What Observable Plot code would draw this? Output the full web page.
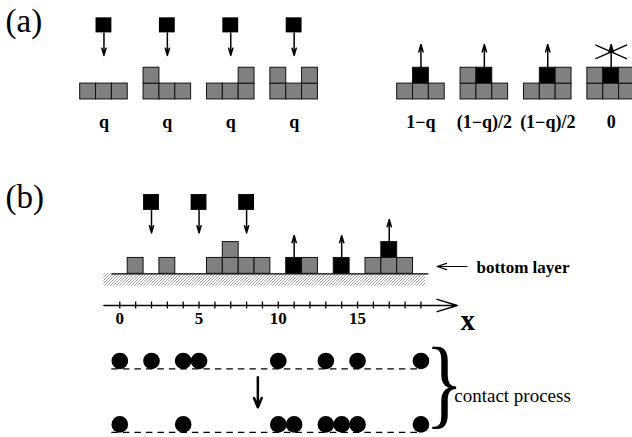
<!DOCTYPE html>
<html><head><meta charset="utf-8">
<script src="https://cdn.jsdelivr.net/npm/d3@7"></script>
<script src="https://cdn.jsdelivr.net/npm/@observablehq/plot@0.6"></script>
<style>html,body{margin:0;padding:0;background:#fff;} svg{display:block;}</style>
</head><body><div id="chart"></div>
<script>
// ---------- data (lattice units: column, row) ----------
// Panel (a): deposition moves (centre column of each configuration)
const depositCols = [-1, 3, 7, 11];
const depositLabels = ["q", "q", "q", "q"];
// Panel (a): evaporation moves
const evapCols = [19, 23, 27, 31];
const evapLabels = ["1\u2212q", "(1\u2212q)/2", "(1\u2212q)/2", "0"];
const blockedCol = 31;
// Panel (a) cells: [column, row, state] g = grey, b = black (particle leaving)
const cellsA = [
  [-2,0,"g"],[-1,0,"g"],[0,0,"g"],
  [2,0,"g"],[3,0,"g"],[4,0,"g"],[2,1,"g"],
  [6,0,"g"],[7,0,"g"],[8,0,"g"],[8,1,"g"],
  [10,0,"g"],[11,0,"g"],[12,0,"g"],[10,1,"g"],[12,1,"g"],
  [18,0,"g"],[19,0,"g"],[20,0,"g"],[19,1,"b"],
  [22,0,"g"],[23,0,"g"],[24,0,"g"],[22,1,"g"],[23,1,"b"],
  [26,0,"g"],[27,0,"g"],[28,0,"g"],[27,1,"b"],[28,1,"g"],
  [30,0,"g"],[31,0,"g"],[32,0,"g"],[30,1,"g"],[31,1,"b"],[32,1,"g"]
];
// Panel (b) cells
const cellsB = [
  [1,0,"g"],[3,0,"g"],[6,0,"g"],[7,0,"g"],[8,0,"g"],[9,0,"g"],[7,1,"g"],
  [11,0,"b"],[12,0,"g"],[14,0,"b"],[16,0,"g"],[17,0,"g"],[18,0,"g"],[17,1,"b"]
];
const fallingB = [2, 5, 8];
const leavingB = [[11, 1], [14, 1], [17, 2]]; // column, height of top
const tickValues = d3.range(0, 20);
const tickLabels = [0, 5, 10, 15];
// contact process
const contactBefore = [0, 2, 4, 5, 10, 13, 15, 19];
const contactAfter = [0, 4, 10, 11, 13, 14, 15, 19];

// ---------- layout (in lattice units) ----------
const yA = 11;          // base of panel (a) configurations
const fallA = 15.2;     // bottom of falling squares, panel (a)
const fallB = 4;        // bottom of falling squares, panel (b)
const arrowLen = 1.42;
const axisY = -2;
const rowTop = -6, rowBot = -10;
const serif = "Liberation Serif";
const GREY = "#808080";
const col = s => s === "b" ? "black" : GREY;

const cellRect = (data, base) => Plot.rect(data, {
  x1: d => d[0] - 0.5, x2: d => d[0] + 0.5,
  y1: d => base + d[1], y2: d => base + d[1] + 1,
  fill: d => col(d[2]), stroke: "#111", strokeWidth: 1
});
const smallArrow = {stroke: "black", strokeWidth: 1.5, headLength: 9, headAngle: 32};

const svg = Plot.plot({
  width: 632, height: 437,
  marginTop: 0, marginRight: 0, marginBottom: 0, marginLeft: 0,
  x: {domain: [-7.527, 32.347], axis: null},
  y: {domain: [-10.328, 17.243], axis: null},
  color: {type: "identity"},
  style: {background: "white", fontFamily: serif},
  marks: [
    // panel labels
    Plot.text([{t: "(a)", y: 15.27}, {t: "(b)", y: 4.18}], {
      x: -7.21, y: "y", text: "t", fontSize: 33, fontFamily: serif,
      textAnchor: "start", lineAnchor: "bottom", fill: "black"
    }),
    // ---- panel (a)
    cellRect(cellsA, yA),
    Plot.rect(depositCols, {x1: d => d - 0.5, x2: d => d + 0.5, y1: fallA, y2: fallA + 0.95, fill: "black"}),
    Plot.arrow(depositCols, {x1: d => d, x2: d => d, y1: fallA, y2: fallA - arrowLen, ...smallArrow}),
    Plot.arrow(evapCols, {x1: d => d, x2: d => d, y1: yA + 2, y2: yA + 2 + 1.47, ...smallArrow}),
    Plot.link([[-1, 0.44, 1, -0.44], [-1, -0.44, 1, 0.44]], {
      x1: d => blockedCol + d[0], y1: d => yA + 3 + d[1],
      x2: d => blockedCol + d[2], y2: d => yA + 3 + d[3],
      stroke: "black", strokeWidth: 1.3
    }),
    Plot.text(depositCols, {x: d => d, y: 9.23, text: (d, i) => depositLabels[i],
      fontSize: 18, fontWeight: "bold", fontFamily: serif, lineAnchor: "bottom", fill: "black"}),
    Plot.text(evapCols, {x: d => d, y: 9.23, text: (d, i) => evapLabels[i],
      fontSize: 18, fontWeight: "bold", fontFamily: serif, lineAnchor: "bottom", fill: "black"}),
    // ---- panel (b)
    Plot.rect([0], {x1: -1.0, x2: 19.3, y1: -0.78, y2: 0, fill: "url(#hatch)"}),
    Plot.ruleY([0], {x1: -0.5, x2: 19.5, stroke: "black", strokeWidth: 1.3}),
    cellRect(cellsB, 0),
    Plot.rect(fallingB, {x1: d => d - 0.5, x2: d => d + 0.5, y1: fallB, y2: fallB + 1, fill: "black"}),
    Plot.arrow(fallingB, {x1: d => d, x2: d => d, y1: fallB, y2: fallB - arrowLen, ...smallArrow}),
    Plot.arrow(leavingB, {x1: d => d[0], x2: d => d[0], y1: d => d[1], y2: d => d[1] + arrowLen, ...smallArrow}),
    Plot.arrow([0], {x1: 21.9, x2: 20.02, y1: 0.46, y2: 0.46, stroke: "black", strokeWidth: 1.2, headLength: 13, headAngle: 36}),
    Plot.text(["bottom layer"], {x: 22.5, y: 0.42, text: d => d, fontSize: 17, fontWeight: "bold",
      fontFamily: serif, textAnchor: "start", lineAnchor: "middle", fill: "black"}),
    // axis
    Plot.arrow([0], {x1: -1.0, x2: 21.29, y1: axisY, y2: axisY, stroke: "black", strokeWidth: 1.5, headLength: 21, headAngle: 34}),
    Plot.ruleX(tickValues, {x: d => d, y1: axisY - 0.22, y2: axisY + 0.22, stroke: "black", strokeWidth: 1.3}),
    Plot.text(tickLabels, {x: d => d, y: -3.15, text: d => String(d), fontSize: 17, fontWeight: "bold",
      fontFamily: serif, lineAnchor: "bottom", fill: "black"}),
    Plot.text(["x"], {x: 21.5, y: -3.55, text: d => d, fontSize: 29, fontWeight: "bold",
      fontFamily: serif, textAnchor: "start", lineAnchor: "bottom", fill: "black"}),
    // ---- contact process
    Plot.ruleY([rowTop, rowBot], {y: d => d, x1: -0.5, x2: 19, stroke: "black", strokeWidth: 1.2, strokeDasharray: "6.5,5"}),
    Plot.dot(contactBefore, {x: d => d, y: rowTop + 0.5, r: 8.3, fill: "black"}),
    Plot.dot(contactAfter, {x: d => d, y: rowBot + 0.5, r: 8.3, fill: "black"}),
    Plot.arrow([0], {x1: 8.71, x2: 8.71, y1: -6.52, y2: -8.42, stroke: "black", strokeWidth: 2.5, headLength: 12, headAngle: 45}),
    Plot.text(["}"], {x: 19.25, y: -8.94, text: d => d, fontSize: 100, fontFamily: serif,
      textAnchor: "start", lineAnchor: "bottom", fill: "black"}),
    Plot.text(["contact process"], {x: 21.1, y: -8.06, text: d => d, fontSize: 19, fontFamily: serif,
      textAnchor: "start", lineAnchor: "bottom", fill: "black"})
  ]
});

// hatch pattern for the substrate
const defs = d3.select(svg).insert("defs", ":first-child");
const pat = defs.append("pattern").attr("id", "hatch").attr("patternUnits", "userSpaceOnUse")
  .attr("width", 3).attr("height", 3);
pat.append("path").attr("d", "M-0.75,0.75 l1.5,-1.5 M0,3 l3,-3 M2.25,3.75 l1.5,-1.5")
  .attr("stroke", "#8a8a8a").attr("stroke-width", 0.8);

// narrow the brace glyph horizontally
Array.from(svg.querySelectorAll("text")).filter(el => el.textContent === "}").forEach(el => {
  const t = el.getAttribute("transform");
  if (t) {
    el.setAttribute("transform", t + " scale(0.8,1)");
  } else {
    const x = parseFloat(el.getAttribute("x")) || 0, y = parseFloat(el.getAttribute("y")) || 0;
    el.removeAttribute("x"); el.removeAttribute("y");
    el.setAttribute("transform", `translate(${x},${y}) scale(0.8,1)`);
  }
});

document.getElementById("chart").appendChild(svg);
</script></body></html>
